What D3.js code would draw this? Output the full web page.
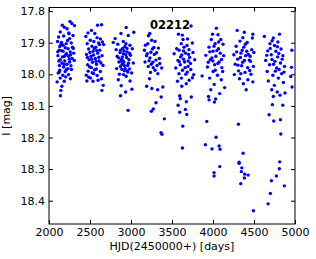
<!DOCTYPE html>
<html>
<head>
<meta charset="utf-8">
<script src="https://cdn.jsdelivr.net/npm/d3@7"></script>
<style>
  body { margin: 0; background: #fff; }
  svg { display: block; }
  .tick text { font-family: 'DejaVu Sans', sans-serif; font-size: 11px; fill: #000; }
  .tick line { stroke: #000; }
</style>
</head>
<body>
<div id="chart-area"></div>
<script>
// observing seasons, [HJD-2450000, I mag]
const season1 = [[2256,17.833],[2279,17.839],[2311,17.846],[2162,17.845],[2188,17.851],[2221,17.856],[2137,17.866],[2241,17.869],[2293,17.877],[2117,17.882],[2179,17.879],[2251,17.887],[2104,17.896],[2152,17.899],[2209,17.903],[2271,17.901],[2131,17.912],[2198,17.916],[2233,17.919],[2286,17.914],[2123,17.924],[2171,17.927],[2259,17.929],[2213,17.935],[2301,17.933],[2109,17.941],[2164,17.945],[2239,17.943],[2281,17.950],[2138,17.954],[2192,17.958],[2252,17.961],[2308,17.956],[2157,17.964],[2219,17.968],[2128,17.972],[2267,17.973],[2178,17.977],[2231,17.982],[2131,17.987],[2197,17.991],[2274,17.985],[2112,17.996],[2169,18.003],[2238,18.001],[2204,18.008],[2136,18.012],[2261,18.014],[2099,18.024],[2186,18.022],[2157,18.038],[2145,18.051],[2139,18.068],
  [2146,17.905],[2226,17.893],[2203,17.938],[2152,17.925],[2248,17.952],[2119,17.958],[2184,17.969],[2213,17.985],[2296,17.918],[2171,17.908],[2245,17.872],[2126,17.993],[2189,17.943],[2262,17.938],[2107,17.929]]
const season2 = [[2592,17.845],[2641,17.843],[2518,17.861],[2475,17.869],[2559,17.871],[2449,17.880],[2586,17.884],[2627,17.888],[2503,17.892],[2546,17.896],[2466,17.903],[2605,17.901],[2666,17.906],[2524,17.911],[2571,17.914],[2483,17.920],[2619,17.924],[2538,17.927],[2594,17.933],[2457,17.937],[2512,17.943],[2647,17.941],[2565,17.950],[2489,17.954],[2611,17.958],[2530,17.962],[2579,17.968],[2471,17.970],[2659,17.972],[2517,17.979],[2577,17.983],[2477,17.990],[2626,17.991],[2544,17.998],[2455,18.003],[2587,18.004],[2506,18.012],[2639,18.014],[2462,18.021],[2536,18.022],[2598,18.019],[2661,18.035],[2645,18.051],
  [2553,17.918],[2498,17.931],[2608,17.946],[2543,17.939],[2583,17.925],[2521,17.952],[2634,17.964],[2494,17.976],[2556,17.986],[2615,17.906],[2469,17.947],[2573,17.959],[2527,17.995],[2651,17.898],[2486,18.009]]
const season3 = [[2941,17.852],[2878,17.871],[3034,17.867],[2967,17.877],[2806,17.887],[2784,17.899],[2906,17.896],[2839,17.905],[2987,17.908],[2926,17.912],[3016,17.919],[2819,17.922],[2872,17.924],[2953,17.929],[2908,17.935],[2994,17.940],[2831,17.943],[2947,17.947],[2886,17.952],[2975,17.954],[2853,17.961],[2912,17.962],[3028,17.964],[2959,17.972],[2871,17.975],[2825,17.982],[2981,17.983],[2918,17.989],[3008,17.996],[2859,18.000],[2941,18.006],[2845,18.017],[2988,18.021],[2880,18.036],[3011,18.047],[2934,18.056],[2872,18.068],[2894,17.945],[2920,17.973],[2866,17.931],[2961,17.993],[2964,18.114],
  [2901,17.957],[2936,17.938],[2877,17.958],[2951,17.918],[2915,17.926],[2928,17.982],[2892,17.968],[2969,17.965],[2848,17.948],[2909,18.001],[2938,17.903],[2983,17.934],[2898,17.918],[2956,17.989],[2887,17.984]]
const season4 = [[3213,17.878],[3252,17.892],[3205,17.903],[3293,17.896],[3164,17.924],[3261,17.920],[3334,17.917],[3197,17.935],[3285,17.937],[3231,17.948],[3346,17.950],[3171,17.961],[3266,17.962],[3318,17.972],[3211,17.975],[3374,17.980],[3293,17.987],[3238,17.994],[3327,17.998],[3225,18.014],[3191,18.038],[3254,18.045],[3325,18.049],[3388,18.040],[3368,18.072],[3248,18.117],[3272,18.110],[3305,18.090],[3407,18.141],[3366,18.185],[3378,18.190],
  [3242,17.930],[3278,17.915],[3221,17.957],[3303,17.955],[3189,17.941],[3247,17.968],[3312,17.932],[3271,17.979],[3176,17.908],[3351,17.966],[3229,17.871]]
const season5 = [[3732,17.847],[3579,17.873],[3634,17.890],[3689,17.888],[3613,17.903],[3748,17.901],[3647,17.914],[3707,17.922],[3587,17.924],[3526,17.935],[3666,17.933],[3756,17.931],[3606,17.945],[3715,17.947],[3573,17.956],[3654,17.961],[3777,17.954],[3601,17.970],[3695,17.975],[3546,17.980],[3729,17.985],[3628,17.987],[3585,17.998],[3668,18.000],[3764,18.001],[3614,18.012],[3709,18.019],[3567,18.022],[3674,18.030],[3619,18.038],[3593,18.068],[3601,18.077],[3735,18.072],[3574,18.098],[3594,18.120],[3663,18.111],[3680,18.127],[3675,18.087],[3631,18.164],[3627,18.233],
  [3641,17.926],[3683,17.909],[3619,17.939],[3698,17.958],[3659,17.979],[3557,17.919],[3725,17.966],[3641,17.952],[3588,17.960],[3702,17.937],[3626,17.876],[3749,18.011],[3687,17.993]]
const season6 = [[4041,17.854],[3994,17.873],[4061,17.875],[4095,17.890],[3979,17.890],[4026,17.903],[4122,17.905],[3951,17.914],[4067,17.919],[4000,17.927],[3912,17.940],[4035,17.943],[4130,17.941],[3967,17.954],[4075,17.961],[4020,17.970],[3933,17.977],[4108,17.979],[3867,18.005],[4001,17.991],[4055,18.003],[3959,18.012],[4101,18.017],[4014,18.032],[4142,18.042],[3973,18.049],[4081,18.061],[3945,18.070],[4032,18.078],[3952,18.081],[4017,18.088],[3924,18.149],[4037,18.199],[3907,18.223],[3988,18.236],[4074,18.227],[4086,18.237],[4082,18.292],[4013,18.311],[4013,18.322],
  [4046,17.925],[3987,17.948],[4088,17.933],[4012,17.911],[4059,17.966],[3961,17.929],[4104,17.953],[4027,17.987],[3942,17.962],[4069,17.898],[3998,17.958],[4118,17.991]]
const season7 = [[4295,17.861],[4382,17.867],[4486,17.873],[4364,17.884],[4480,17.885],[4329,17.895],[4417,17.899],[4282,17.911],[4375,17.914],[4472,17.922],[4254,17.938],[4341,17.933],[4431,17.937],[4498,17.931],[4301,17.952],[4384,17.956],[4457,17.959],[4270,17.968],[4349,17.973],[4423,17.979],[4492,17.975],[4311,17.989],[4390,17.994],[4463,18.000],[4260,18.001],[4323,18.014],[4425,18.017],[4486,18.024],[4370,18.030],[4405,18.049],[4310,18.158],[4367,18.250],[4318,18.278],[4318,18.282],[4351,18.296],[4346,18.308],[4387,18.316],[4428,18.319],[4383,18.328],[4338,18.346],[4493,18.432],
  [4356,17.924],[4398,17.941],[4334,17.947],[4442,17.955],[4289,17.929],[4412,17.927],[4361,17.962],[4447,17.988],[4305,17.971],[4394,17.905],[4453,17.943],[4339,17.998]]
const season8 = [[4626,17.880],[4811,17.873],[4736,17.885],[4791,17.898],[4695,17.903],[4750,17.909],[4962,17.924],[4667,17.926],[4829,17.920],[4710,17.938],[4789,17.945],[4852,17.941],[4642,17.956],[4756,17.959],[4823,17.964],[4689,17.970],[4872,17.975],[4776,17.980],[4661,17.991],[4837,17.998],[4730,18.003],[4956,17.978],[4948,18.007],[4797,18.012],[4675,18.021],[4858,18.026],[4748,18.035],[4716,18.049],[4783,18.056],[4878,18.059],[4817,18.066],[4736,18.070],[4964,18.040],[4724,18.096],[4851,18.098],[4684,18.128],[4741,18.148],[4822,18.144],[4827,18.189],[4814,18.277],[4809,18.299],[4773,18.322],[4712,18.337],[4870,18.353],[4700,18.377],[4672,18.410],
  [4767,17.927],[4803,17.934],[4719,17.953],[4844,17.952],[4761,17.990],[4698,17.918],[4806,17.985],[4738,17.968],[4785,17.913],[4655,17.940],[4866,17.993],[4721,17.894]]

const seasons = [season1, season2, season3, season4, season5, season6, season7, season8]
const xTicks = [2000, 2500, 3000, 3500, 4000, 4500, 5000]
const yTicks = [17.8, 17.9, 18.0, 18.1, 18.2, 18.3, 18.4]
const starName = '02212'

const margin = { left: 49, right: 21, top: 7.5, bottom: 35 }
const width = 316 - margin.left - margin.right
const height = 259 - margin.top - margin.bottom

const svg = d3.select('#chart-area')
              .append('svg')
              .attr('width', 316)
              .attr('height', 259)

const g = svg.append('g')
             .attr('transform', 'translate(' + margin.left + ', ' + margin.top + ')')

// X Scale
const x = d3.scaleLinear()
            .domain([2000, 5000])
            .range([0, width])

// Y Scale (magnitudes, brighter on top)
const y = d3.scaleLinear()
            .domain([17.7886, 18.4737])
            .range([0, height])

// points
const points = seasons.flat()
g.selectAll('circle')
 .data(points)
 .enter()
 .append('circle')
 .attr('cx', d => x(d[0]))
 .attr('cy', d => y(d[1]))
 .attr('r', 1.7)
 .attr('fill', '#0000ff')

// axes, ticks point inward
g.append('g')
 .attr('transform', 'translate(0,' + height + ')')
 .call(d3.axisBottom(x).tickValues(xTicks).tickFormat(d3.format('d'))
        .tickSizeInner(-4).tickSizeOuter(0).tickPadding(4))

g.append('g')
 .call(d3.axisTop(x).tickValues(xTicks).tickFormat('')
        .tickSizeInner(-4).tickSizeOuter(0))

g.append('g')
 .call(d3.axisLeft(y).tickValues(yTicks).tickFormat(d3.format('.1f'))
        .tickSizeInner(-4).tickSizeOuter(0).tickPadding(4))

g.append('g')
 .attr('transform', 'translate(' + width + ',0)')
 .call(d3.axisRight(y).tickValues(yTicks).tickFormat('')
        .tickSizeInner(-4).tickSizeOuter(0))

g.selectAll('.domain').remove()

// frame
g.append('rect')
 .attr('width', width)
 .attr('height', height)
 .attr('fill', 'none')
 .attr('stroke', '#000')
 .attr('stroke-width', 1)

// title inside the plot
g.append('text')
 .attr('x', x(3500) - 2)
 .attr('y', 21)
 .attr('text-anchor', 'middle')
 .attr('font-family', 'DejaVu Sans, sans-serif')
 .attr('font-size', '11.5px')
 .attr('font-weight', 'bold')
 .text(starName)

// X Label
g.append('text')
 .attr('x', width / 2)
 .attr('y', height + 26)
 .attr('text-anchor', 'middle')
 .attr('font-family', 'DejaVu Sans, sans-serif')
 .attr('font-size', '11px')
 .text('HJD(2450000+) [days]')

// Y Label
g.append('text')
 .attr('x', -(height / 2))
 .attr('y', -39)
 .attr('text-anchor', 'middle')
 .attr('transform', 'rotate(-90)')
 .attr('font-family', 'DejaVu Sans, sans-serif')
 .attr('font-size', '11px')
 .text('I [mag]')
</script>
</body>
</html>
